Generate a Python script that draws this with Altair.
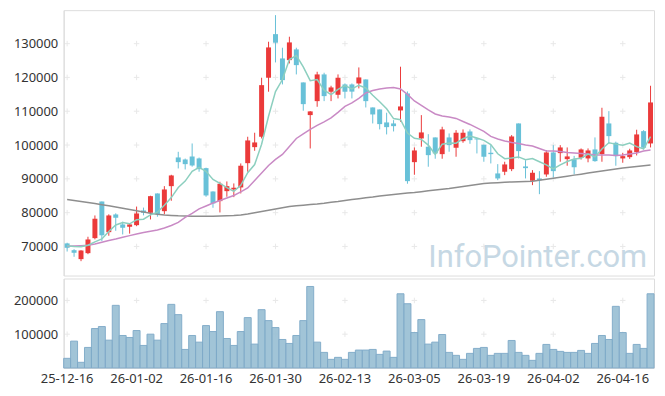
import altair as alt
import pandas as pd

dates = [
    "25-12-16", "25-12-17", "25-12-18", "25-12-19", "25-12-22", "25-12-23", "25-12-24", "25-12-26", "25-12-29", "25-12-30",
    "26-01-02", "26-01-05", "26-01-06", "26-01-07", "26-01-08", "26-01-09", "26-01-12", "26-01-13", "26-01-14", "26-01-15",
    "26-01-16", "26-01-19", "26-01-20", "26-01-21", "26-01-22", "26-01-23", "26-01-26", "26-01-27", "26-01-28", "26-01-29",
    "26-01-30", "26-02-02", "26-02-03", "26-02-04", "26-02-05", "26-02-06", "26-02-09", "26-02-10", "26-02-11", "26-02-12",
    "26-02-13", "26-02-19", "26-02-20", "26-02-23", "26-02-24", "26-02-25", "26-02-26", "26-02-27", "26-03-03", "26-03-04",
    "26-03-05", "26-03-06", "26-03-09", "26-03-10", "26-03-11", "26-03-12", "26-03-13", "26-03-16", "26-03-17", "26-03-18",
    "26-03-19", "26-03-20", "26-03-23", "26-03-24", "26-03-25", "26-03-26", "26-03-27", "26-03-30", "26-03-31", "26-04-01",
    "26-04-02", "26-04-03", "26-04-06", "26-04-07", "26-04-08", "26-04-09", "26-04-10", "26-04-13", "26-04-14", "26-04-15",
    "26-04-16", "26-04-17", "26-04-20", "26-04-21", "26-04-22",
]

opens = [
    70900, 68900, 66250, 68020, 72460, 83300, 74230, 79470, 76510, 75830,
    76300, 80650, 79960, 85680, 80440, 87840, 96330, 95730, 96630, 96040,
    93170, 86260, 83410, 86360, 86860, 87460, 94640, 99380, 102450, 119910,
    132810, 125620, 125120, 128290, 118520, 108860, 112990, 120890, 115770, 114870,
    117930, 117930, 118220, 119410, 111120, 110530, 106690, 106390, 110240, 115270,
    94940, 101950, 99500, 102250, 97310, 102250, 99200, 101150, 104020, 101950,
    100090, 97720, 91600, 92100, 92870, 106390, 93670, 89440, 90120, 91300,
    97810, 97610, 95830, 95830, 96240, 96040, 98700, 97310, 106390, 100680,
    96040, 96420, 97900, 104110, 100470,
]
highs = [
    71100, 69200, 68900, 72870, 79170, 83300, 79500, 79800, 77300, 76800,
    81800, 81500, 85000, 85680, 87840, 91200, 98000, 96000, 100470, 96300,
    93300, 86300, 89140, 89230, 88640, 94560, 102450, 103640, 119910, 130560,
    138430, 128790, 132040, 128790, 118520, 110040, 121680, 121390, 117540, 120890,
    118220, 118220, 122960, 119410, 111120, 110530, 109560, 107370, 123170, 115860,
    99290, 108850, 103220, 102250, 105410, 103430, 104410, 104620, 104620, 101950,
    100090, 99970, 94350, 95060, 102940, 106390, 95530, 92580, 92280, 98490,
    99970, 99970, 99290, 96800, 99000, 99000, 102250, 111030, 110030, 101000,
    97700, 98900, 104530, 104400, 117540,
]
lows = [
    68500, 66950, 65650, 67720, 72100, 71600, 73170, 74640, 73550, 73800,
    76000, 79200, 77990, 78800, 79500, 83520, 93080, 92780, 93600, 92100,
    84700, 81450, 80060, 84700, 84590, 85680, 92100, 98310, 101950, 115770,
    124440, 117930, 124140, 120890, 110150, 98990, 111320, 112990, 112990, 113790,
    113790, 113790, 116750, 111120, 106390, 104620, 103140, 104020, 106890, 88550,
    91210, 99500, 93580, 95950, 95950, 98020, 96540, 100680, 100380, 97520,
    95060, 94560, 89620, 91100, 92280, 96040, 90120, 88140, 85470, 90620,
    90410, 95060, 93880, 91300, 95700, 94900, 95060, 95060, 100470, 93880,
    94760, 95900, 96920, 98700, 99290,
]
closes = [
    69600, 68130, 68800, 72070, 78200, 73300, 79170, 78490, 75530, 76510,
    79760, 79960, 84880, 79560, 86860, 91000, 94940, 94350, 93960, 92870,
    85090, 82720, 88550, 87840, 87370, 93880, 101360, 100770, 117720, 128880,
    130270, 119200, 130360, 123640, 112100, 109950, 120890, 114470, 117040, 119910,
    115770, 115800, 120000, 112990, 109050, 106190, 105300, 105590, 111420, 89320,
    98400, 103730, 97010, 97520, 104620, 99970, 103640, 103640, 101450, 101660,
    96540, 97310, 90120, 94260, 102540, 98200, 93170, 91800, 89620, 97810,
    92280, 99290, 96630, 93460, 98700, 98400, 95240, 108370, 102640, 96720,
    96720, 98400, 103140, 99200, 112600,
]
volumes = [
    28500, 79500, 16700, 60800, 116800, 122700, 82400, 185500, 96200, 90300,
    110900, 66700, 100100, 82400, 131500, 188400, 158000, 54900, 96200, 76500,
    125600, 107900, 166800, 87300, 66700, 107900, 149200, 70700, 172700, 140300,
    119700, 84400, 72600, 96200, 140300, 241400, 76500, 46100, 25500, 31400,
    25500, 46100, 53000, 53000, 54900, 40200, 50000, 31400, 219800, 190300,
    104900, 143300, 70700, 76500, 99100, 46100, 37300, 25500, 43200, 57900,
    60800, 37300, 43200, 43200, 81400, 46100, 37300, 22500, 43200, 69700,
    54900, 49100, 46100, 46100, 52000, 43200, 72600, 96200, 84400, 182500,
    104900, 43200, 69700, 57900, 219800,
]
ma5 = [
    70200, 70000, 69900, 70380, 71360, 72210, 74420, 76360, 77050, 76710,
    77890, 78050, 79330, 80130, 82200, 84450, 87450, 89340, 92220, 93420,
    92240, 89800, 88640, 87410, 86310, 88070, 91800, 94240, 100220, 108520,
    115800, 119370, 125290, 126470, 123110, 119050, 119390, 116210, 114890, 116450,
    117620, 116600, 117700, 116890, 114720, 112810, 110710, 107820, 107510, 103560,
    102010, 101690, 99980, 97200, 100260, 100570, 100550, 101880, 102660, 102070,
    101390, 100120, 97420, 95980, 96150, 96490, 95660, 95990, 95070, 94120,
    92940, 94160, 95130, 95890, 96070, 97300, 96490, 98830, 100670, 100270,
    99940, 100570, 99520, 98840, 102520,
]
ma20 = [
    70090, 70150, 70240, 70360, 70740, 71240, 71780, 72220, 72720, 73200,
    73700, 74140, 74500, 74880, 75470, 76210, 77100, 78580, 79760, 81100,
    81980, 82870, 83610, 84350, 85090, 86120, 87310, 89530, 91750, 93960,
    95740, 97220, 99590, 101950, 103280, 104620, 105800, 106840, 108020, 109650,
    111420, 112460, 113790, 115410, 116150, 116600, 116890, 117040, 116600, 114970,
    113050, 111720, 110380, 109200, 108610, 108310, 107870, 106980, 106090, 105060,
    104020, 102540, 101800, 101210, 100770, 100470, 100030, 99730, 98990, 98250,
    98250, 98110, 97810, 97660, 97510, 97370, 97070, 97070, 97070, 96920,
    97070, 97370, 97660, 98250, 98550,
]
ma_long = [
    83910, 83610, 83310, 83020, 82720, 82370, 82040, 81690, 81300, 80950,
    80560, 80210, 79820, 79530, 79320, 79170, 79050, 78990, 78960, 78960,
    78960, 78960, 78990, 79050, 79140, 79320, 79620, 79970, 80360, 80710,
    81070, 81450, 81800, 82040, 82220, 82400, 82540, 82780, 83080, 83310,
    83610, 83910, 84140, 84410, 84640, 84940, 85180, 85380, 85590, 85800,
    85980, 86210, 86450, 86690, 86920, 87160, 87460, 87750, 88050, 88340,
    88640, 88760, 88880, 88990, 89080, 89140, 89230, 89320, 89590, 89880,
    90180, 90500, 90800, 91100, 91390, 91720, 92040, 92340, 92630, 92930,
    93230, 93460, 93670, 93880, 94080,
]

tick_dates = ["25-12-16", "26-01-02", "26-01-16", "26-01-30", "26-02-13",
              "26-03-05", "26-03-19", "26-04-02", "26-04-16"]
price_ticks = [70000, 80000, 90000, 100000, 110000, 120000, 130000]
volume_ticks = [100000, 200000]
watermark = "InfoPointer.com"

df = pd.DataFrame({
    "date": dates, "open": opens, "high": highs, "low": lows, "close": closes,
    "volume": volumes, "ma5": ma5, "ma20": ma20, "malong": ma_long,
})
df["dir"] = ["up" if c >= o else "down" for o, c in zip(opens, closes)]

grid_price = pd.DataFrame([(d, p) for d in tick_dates for p in price_ticks], columns=["date", "v"])
grid_vol = pd.DataFrame([(d, p) for d in tick_dates for p in volume_ticks], columns=["date", "v"])

W = 594
FONT = "Noto Sans"
LBL = "#333333"
xscale = alt.Scale(domain=dates, paddingInner=0, paddingOuter=0)
color = alt.Color("dir:N", scale=alt.Scale(domain=["up", "down"], range=["#eb3a3a", "#68c1d8"]), legend=None)
pscale = alt.Scale(domain=[61400, 139900], nice=False, zero=False)
cross = "M-1,0L1,0M0,-1L0,1"

base = alt.Chart(df)
xp = alt.X("date:O", scale=xscale, axis=None)

price_axis = alt.Axis(values=price_ticks, format="d", grid=False, ticks=False, domainColor="#dddddd",
                      labelFont=FONT, labelFontSize=13, labelColor=LBL, labelPadding=6)

grid1 = alt.Chart(grid_price).mark_point(shape=cross, size=30, filled=False, stroke="#e0e0e0", strokeWidth=1).encode(
    x=xp, y=alt.Y("v:Q", scale=pscale, axis=price_axis, title=None))
wick = base.mark_rule(strokeWidth=1).encode(x=xp, y=alt.Y("low:Q", scale=pscale), y2="high:Q", color=color)
body = base.mark_bar(width=5).encode(x=xp, y=alt.Y("open:Q", scale=pscale), y2="close:Q", color=color)
l_long = base.mark_line(color="#8e8e8e", strokeWidth=1.5).encode(x=xp, y=alt.Y("malong:Q", scale=pscale))
l20 = base.mark_line(color="#c98ac5", strokeWidth=1.5).encode(x=xp, y=alt.Y("ma20:Q", scale=pscale))
l5 = base.mark_line(color="#8ccfbf", strokeWidth=1.5).encode(x=xp, y=alt.Y("ma5:Q", scale=pscale))
wm = alt.Chart(pd.DataFrame({"t": [watermark]})).mark_text(
    font="Roboto", fontSize=31, color="#c6d8e4", align="center", baseline="alphabetic"
).encode(text="t:N", x=alt.value(477), y=alt.value(258))

price = alt.layer(grid1, wm, wick, body, l_long, l20, l5).properties(width=W, height=267)

vaxis = alt.Axis(values=volume_ticks, format="d", grid=False, ticks=False, domainColor="#dddddd",
                 labelFont=FONT, labelFontSize=13, labelColor=LBL, labelPadding=6)
vscale = alt.Scale(domain=[0, 265000], nice=False)
xv = alt.X("date:O", scale=xscale, title=None,
           axis=alt.Axis(values=tick_dates, labelAngle=0, ticks=False, domain=False, labelFont=FONT,
                         labelFontSize=13, labelColor=LBL, labelPadding=5))
grid2 = alt.Chart(grid_vol).mark_point(shape=cross, size=30, filled=False, stroke="#e0e0e0", strokeWidth=1).encode(
    x=xv, y=alt.Y("v:Q", scale=vscale, axis=vaxis, title=None))
vbars = base.mark_bar(color="#9cc1d5", stroke="#7ea9c8", strokeWidth=1, opacity=0.95).encode(
    x=xv, y=alt.Y("volume:Q", scale=vscale))
volume = alt.layer(grid2, vbars).properties(width=W, height=90)

chart = alt.vconcat(price, volume, spacing=1).properties(
    padding={"left": 4, "top": 0, "right": 2, "bottom": 2}
).configure_view(stroke="#e3e3e3").configure(background="white")

chart.save("out.html", embed_options={"renderer": "svg", "actions": False})
